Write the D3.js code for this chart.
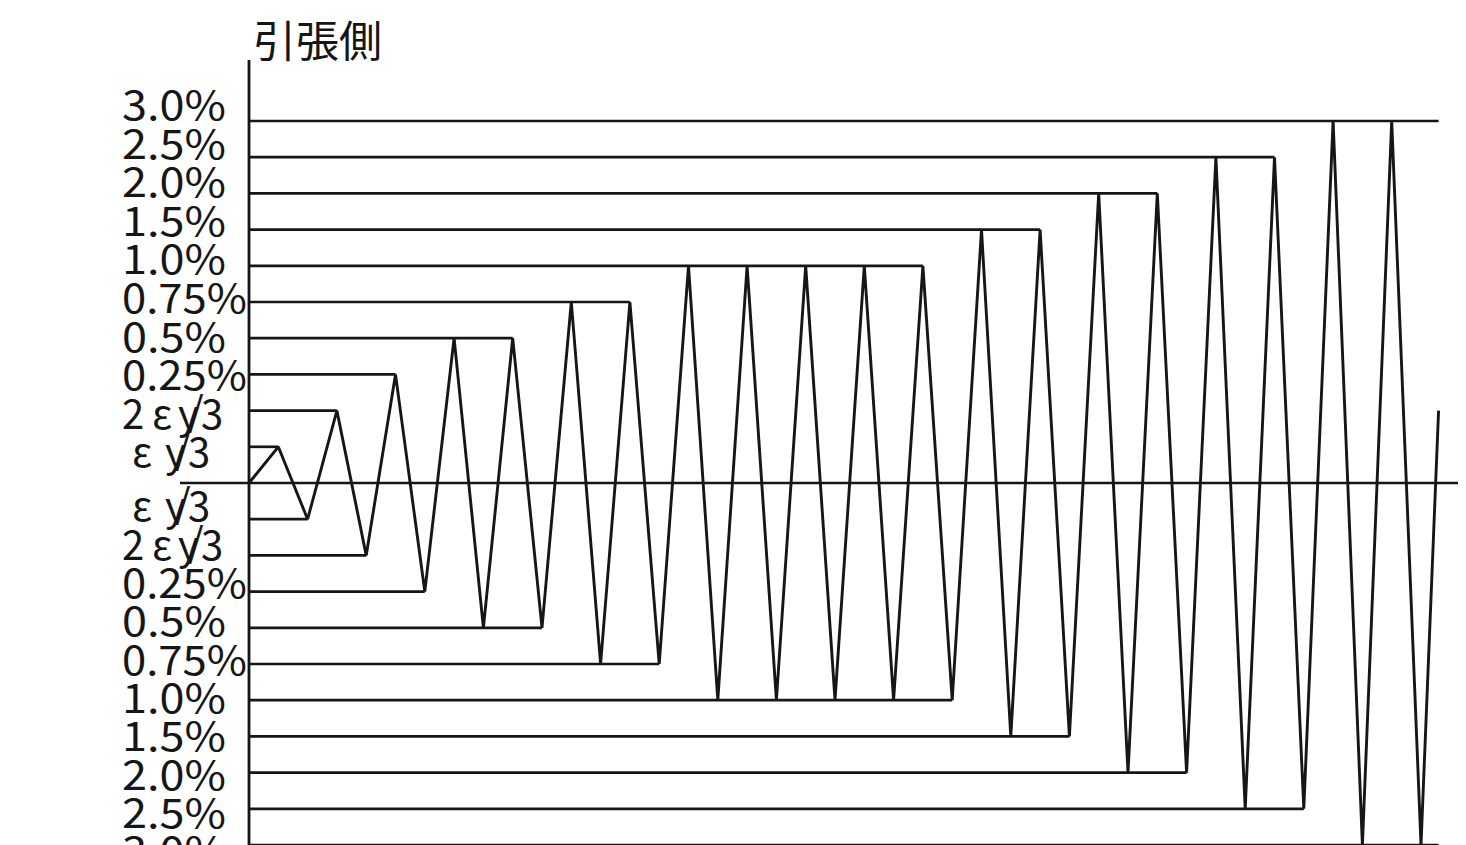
<!DOCTYPE html>
<html>
<head>
<meta charset="utf-8">
<script src="https://cdn.jsdelivr.net/npm/d3@7"></script>
<style>
  html, body { margin: 0; padding: 0; background: #fff; }
  svg { display: block; }
  text { font-family: "Noto Sans CJK JP", "Noto Sans", sans-serif; fill: #161616; }
</style>
</head>
<body>
<svg id="chart" width="1466" height="845"></svg>
<script>
// Amplitude steps of the loading protocol, from the smallest to the largest.
const amplitudeLabels = ["εy/3", "2εy/3", "0.25%", "0.5%", "0.75%", "1.0%", "1.5%", "2.0%", "2.5%", "3.0%"];

// Signed amplitude step reached at each successive peak (+ tension, - compression).
const peakLevels = [
   1, -1,
   2, -2,
   3, -3,
   4, -4,  4, -4,
   5, -5,  5, -5,
   6, -6,  6, -6,  6, -6,  6, -6,  6, -6,
   7, -7,  7, -7,
   8, -8,  8, -8,
   9, -9,  9, -9,
  10, -10, 10, -10
];

// The record stops part way up the last loading branch.
const finalStep = 40.6;
const finalLevel = 2;

const axisTitle = "引張側";

const svg = d3.select("#chart");
const ink = "#161616";

// Half-cycle counter -> horizontal position; amplitude step -> vertical position.
const x = d3.scaleLinear().domain([0, peakLevels.length]).range([249, 1421]);
const y = d3.scaleLinear().domain([-10, 10]).range([845, 121]);

// Tick labels sit on their own evenly spaced stacks above and below zero.
const labelUp = d3.scaleLinear().domain([1, 10]).range([453, 105.6]);
const labelDown = d3.scaleLinear().domain([1, 10]).range([507, 852]);

// Path through the origin, every peak and the final partial branch.
const pts = [[0, 0]]
  .concat(peakLevels.map((v, i) => [i + 1, v]))
  .concat([[finalStep, finalLevel]]);

// Horizontal guide for each signed level, from the axis to the last peak at that level.
const maxLevel = d3.max(peakLevels, Math.abs);
const guides = [];
for (let k = 1; k <= amplitudeLabels.length; k++) {
  [k, -k].forEach(lv => {
    const last = peakLevels.lastIndexOf(lv);
    if (last < 0) return;
    const end = Math.abs(lv) === maxLevel ? finalStep : last + 1;
    guides.push({ level: lv, end });
  });
}

const g = svg.append("g");

g.selectAll("line.guide")
  .data(guides)
  .join("line")
  .attr("class", "guide")
  .attr("x1", x(0))
  .attr("x2", d => x(d.end))
  .attr("y1", d => y(d.level))
  .attr("y2", d => y(d.level))
  .attr("stroke", ink)
  .attr("stroke-width", 2.7);

// Zero line
g.append("line")
  .attr("x1", 180).attr("x2", 1458)
  .attr("y1", y(0)).attr("y2", y(0))
  .attr("stroke", ink).attr("stroke-width", 2.7);

// Vertical axis
g.append("line")
  .attr("x1", x(0)).attr("x2", x(0))
  .attr("y1", 60).attr("y2", 845)
  .attr("stroke", ink).attr("stroke-width", 2.8);

// Strain history
const line = d3.line().x(d => x(d[0])).y(d => y(d[1]));
g.append("path")
  .datum(pts)
  .attr("d", line)
  .attr("fill", "none")
  .attr("stroke", ink)
  .attr("stroke-width", 2.9)
  .attr("stroke-linejoin", "bevel");

// Axis title
svg.append("text")
  .attr("x", 253)
  .attr("y", 57)
  .attr("font-size", 43)
  .text(axisTitle);

// Tick labels
const labelX = 122;
function drawLabel(text, yc) {
  const t = svg.append("text")
    .attr("x", labelX)
    .attr("y", yc)
    .attr("dy", "0.36em")
    .attr("font-size", 40);
  if (text.indexOf("ε") >= 0) {
    const twice = text.startsWith("2");
    const off = twice ? { two: 0, eps: 30, yy: 56, sl: 66, three: 79 }
                      : { eps: 10, yy: 43, sl: 53, three: 66 };
    if (twice) t.append("tspan").attr("x", labelX + off.two).text("2");
    t.append("tspan").attr("x", labelX + off.eps).text("ε");
    t.append("tspan").attr("x", labelX + off.yy).text("y");
    t.append("tspan").attr("x", labelX + off.sl).attr("dy", "-0.08em").text("/");
    t.append("tspan").attr("x", labelX + off.three).attr("dy", "0.08em").text("3");
  } else {
    t.attr("textLength", 21 * text.length + 20)
     .attr("lengthAdjust", "spacingAndGlyphs")
     .text(text);
  }
}
amplitudeLabels.forEach((lab, i) => {
  drawLabel(lab, labelUp(i + 1));
  drawLabel(lab, labelDown(i + 1));
});
</script>
</body>
</html>
